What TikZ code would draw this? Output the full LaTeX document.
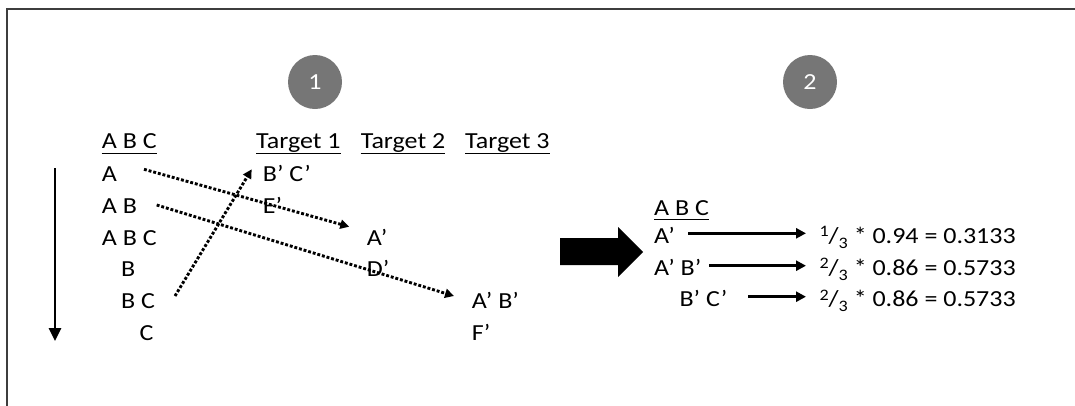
\documentclass[tikz,border=0pt]{standalone}
\usepackage{fontspec}
\setmainfont{Carlito}[FakeStretch=1.13]
\usetikzlibrary{arrows.meta}
\definecolor{framegray}{RGB}{62,62,62}
\definecolor{circgray}{RGB}{118,118,118}
\newcommand\frc[2]{\raisebox{6.5pt}{\fontsize{16}{16}\selectfont #1}/\raisebox{-5pt}{\fontsize{16}{16}\selectfont #2}}
\tikzset{
  txt/.style={inner sep=0pt, anchor=base west, font=\fontsize{23}{27}\selectfont},
  numc/.style={circle, fill=circgray, minimum size=54pt, inner sep=0pt, text=white, font=\fontsize{23}{27}\selectfont},
  ulline/.style={line width=1.6pt},
  dotarrow/.style={line width=2.9pt, dash pattern=on 2.9pt off 1.9pt, -{Triangle[length=9pt,width=9pt]}},
  solidarrow/.style={line width=2.6pt, -{Triangle[length=10pt,width=10pt]}},
  downarrow/.style={line width=2.8pt, -{Triangle[length=13pt,width=12pt]}},
}
\begin{document}
\begin{tikzpicture}[x=1pt,y=-1pt]
\useasboundingbox (0,0) rectangle (1075,405);
\draw[framegray, line width=1.8pt] (7,406) -- (7,9) -- (1076,9);

% step circles
\node[numc] (c1) at (315,82) {1};
\node[numc] (c2) at (810,82) {2};

% left column
\node[txt] (hL) at (101.7,148.3) {A B C};
\node[txt] (r1) at (101.7,181.7) {A};
\node[txt] (r2) at (101.7,213.3) {A B};
\node[txt] (r3) at (101.7,245) {A B C};
\node[txt] (r4) at (121,276.7) {B};
\node[txt] (r5) at (121,308.3) {B C};
\node[txt] (r6) at (139.3,340) {C};

% targets
\node[txt] (t1) at (256,148.3) {Target 1};
\node[txt] (t2) at (360.7,148.3) {Target 2};
\node[txt] (t3) at (465,148.3) {Target 3};
\node[txt] (bc) at (262.7,181.7) {B’ C’};
\node[txt] (e)  at (262.7,213.3) {E’};
\node[txt] (a)  at (366.7,245) {A’};
\node[txt] (d)  at (366.7,276.7) {D’};
\node[txt] (ab) at (471.7,308.3) {A’ B’};
\node[txt] (f)  at (471.7,340) {F’};

% underlines
\foreach \n in {hL,t1,t2,t3}
  \draw[ulline] ([yshift=-5pt]\n.base west) -- ([yshift=-5pt]\n.base east);

% order arrow
\coordinate (dtop) at (55,168);
\coordinate (dbot) at (55,341);
\draw[downarrow] (dtop) -- (dbot);

% dotted connectors
\draw[dotarrow] ([shift={(42.3,-12.4)}]r1.base west) -- ([shift={(-17.4,-18.3)}]a.base west);
\draw[dotarrow] ([shift={(55,-8.3)}]r2.base west) -- ([shift={(-17.7,-12.3)}]ab.base west);
\draw[dotarrow] ([shift={(54,-12.3)}]r5.base west) -- ([shift={(-11,-12.4)}]bc.base west);

% block arrow
\fill (560,238) -- (618,238) -- (618,227) -- (643,252) -- (618,277) -- (618,265) -- (560,265) -- cycle;

% right part
\node[txt] (h2) at (654,215) {A B C};
\draw[ulline] ([yshift=-4.5pt]h2.base west) -- ([yshift=-4.5pt]h2.base east);
\node[txt] (p1) at (654,243.3) {A’};
\node[txt] (p2) at (654,275) {A’ B’};
\node[txt] (p3) at (679.3,306.7) {B’ C’};
\node[txt] (f1) at (819.3,243.3) {\frc{1}{3} * 0.94 = 0.3133};
\node[txt] (f2) at (819.3,275) {\frc{2}{3} * 0.86 = 0.5733};
\node[txt] (f3) at (819.3,306.7) {\frc{2}{3} * 0.86 = 0.5733};
\draw[solidarrow] ([shift={(34.3,-10)}]p1.base west) -- ([shift={(-13.3,-10)}]f1.base west);
\draw[solidarrow] ([shift={(55.3,-9.3)}]p2.base west) -- ([shift={(-13.3,-9.3)}]f2.base west);
\draw[solidarrow] ([shift={(69,-10)}]p3.base west) -- ([shift={(-13.3,-10)}]f3.base west);
\end{tikzpicture}
\end{document}
